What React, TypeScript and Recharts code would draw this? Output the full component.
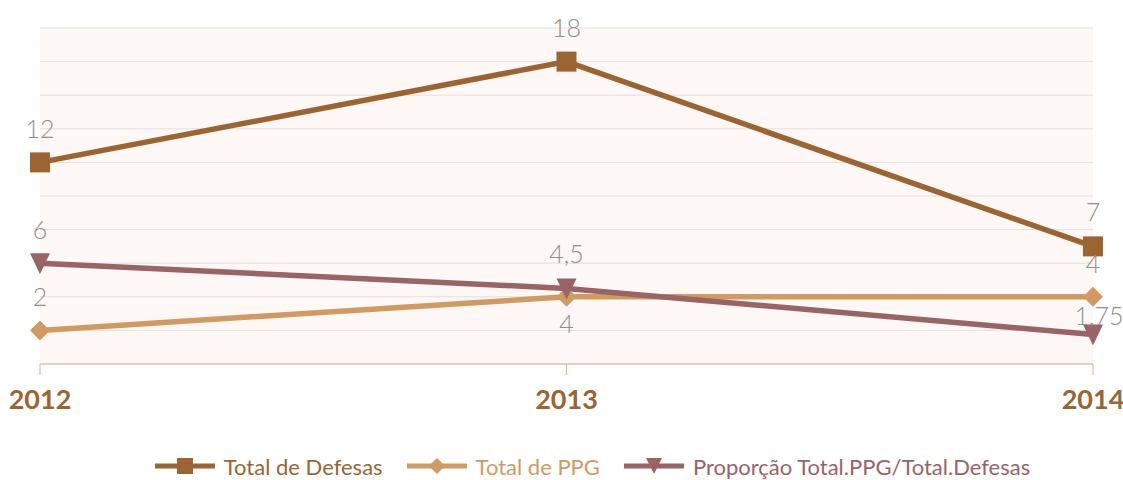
import React from 'react';
import { LineChart, Line, XAxis, YAxis, CartesianGrid, Legend, LabelList } from 'recharts';

const years = ['2012', '2013', '2014'];
const totalDefesas = [12, 18, 7];
const totalPPG = [2, 4, 4];
const proporcao = [6, 4.5, 1.75];
const yTicks = [0, 2, 4, 6, 8, 10, 12, 14, 16, 18, 20];

const seriesNames = {
  defesas: 'Total de Defesas',
  ppg: 'Total de PPG',
  prop: 'Proporção Total.PPG/Total.Defesas',
};

const COLORS = {
  defesas: '#9b6431',
  ppg: '#d19a63',
  prop: '#9a6365',
  label: '#8e8e8e',
  grid: '#e3dfdc',
  bg: '#fdf8f5',
  axis: '#d8b48b',
};

const data = years.map((y, i) => ({
  year: y,
  defesas: totalDefesas[i],
  ppg: totalPPG[i],
  prop: proporcao[i],
}));

// label placement per series (dx, dy relative to point, baseline)
const labelPlacement: Record<string, { dx: number; dy: number }[]> = {
  defesas: [{ dx: 0, dy: -24 }, { dx: 0, dy: -25 }, { dx: 0, dy: -25 }],
  ppg: [{ dx: 0, dy: -24 }, { dx: 0, dy: 36 }, { dx: 0, dy: -24 }],
  prop: [{ dx: 0, dy: -24 }, { dx: 0, dy: -25 }, { dx: 6, dy: -10 }],
};

const fmt = (v: number) => String(v).replace('.', ',');

const makeLabel = (key: string) => (props: any) => {
  const { x, y, value, index } = props;
  const p = labelPlacement[key][index] || { dx: 0, dy: -24 };
  return (
    <text
      x={x + p.dx}
      y={y + p.dy}
      textAnchor="middle"
      fill={COLORS.label}
      fontSize={25}
      fontFamily="Lato, 'Open Sans', sans-serif"
      fontWeight={300}
    >
      {fmt(value)}
    </text>
  );
};

const SquareDot = (props: any) => {
  const { cx, cy } = props;
  if (cx == null || cy == null) return null;
  return <rect x={cx - 10} y={cy - 10} width={20} height={20} fill={COLORS.defesas} />;
};
const DiamondDot = (props: any) => {
  const { cx, cy } = props;
  if (cx == null || cy == null) return null;
  return (
    <polygon
      points={`${cx},${cy - 10} ${cx + 10},${cy} ${cx},${cy + 10} ${cx - 10},${cy}`}
      fill={COLORS.ppg}
    />
  );
};
const TriangleDot = (props: any) => {
  const { cx, cy } = props;
  if (cx == null || cy == null) return null;
  return (
    <polygon
      points={`${cx - 10},${cy - 10} ${cx + 10},${cy - 10} ${cx},${cy + 11}`}
      fill={COLORS.prop}
    />
  );
};

const LegendIcon = ({ kind, color }: { kind: string; color: string }) => (
  <svg width={60} height={20} style={{ display: 'block' }}>
    <line x1={0} y1={10} x2={60} y2={10} stroke={color} strokeWidth={5} />
    {kind === 'square' && <rect x={22} y={2} width={16} height={16} fill={color} />}
    {kind === 'diamond' && <polygon points="30,2 38,10 30,18 22,10" fill={color} />}
    {kind === 'triangle' && <polygon points="22,2 38,2 30,18" fill={color} />}
  </svg>
);

const legendItems = [
  { key: 'defesas', kind: 'square' },
  { key: 'ppg', kind: 'diamond' },
  { key: 'prop', kind: 'triangle' },
];

const renderLegend = () => (
  <div
    style={{
      display: 'flex',
      justifyContent: 'center',
      alignItems: 'center',
      height: 36,
      paddingLeft: 62,
      fontFamily: "Lato, 'Open Sans', sans-serif",
      fontSize: 22,
    }}
  >
    {legendItems.map((it, i) => (
      <div key={it.key} style={{ display: 'flex', alignItems: 'center', marginRight: i < 2 ? 24 : 0 }}>
        <LegendIcon kind={it.kind} color={(COLORS as any)[it.key]} />
        <span style={{ color: (COLORS as any)[it.key], marginLeft: 9 }}>
          {(seriesNames as any)[it.key]}
        </span>
      </div>
    ))}
  </div>
);

export default function App() {
  return (
    <div style={{ position: 'absolute', left: 0, top: 0 }}>
      <LineChart
        width={1123}
        height={480}
        data={data}
        margin={{ top: 28, right: 30, left: 40, bottom: 20 }}
      >
        <CartesianGrid vertical={false} stroke={COLORS.grid} fill={COLORS.bg} fillOpacity={1} />
        <XAxis
          dataKey="year"
          stroke={COLORS.axis}
          tickSize={11}
          tickMargin={15}
          height={60}
          interval={0}
          tick={{ fill: COLORS.defesas, fontSize: 27, fontWeight: 700, fontFamily: "Lato, 'Open Sans', sans-serif" }}
        />
        <YAxis hide domain={[0, 20]} ticks={yTicks} />
        <Legend
          verticalAlign="bottom"
          content={renderLegend}
          wrapperStyle={{ left: 0, width: 1123, top: 448, bottom: 'auto' }}
        />
        <Line
          dataKey="defesas"
          name={seriesNames.defesas}
          stroke={COLORS.defesas}
          strokeWidth={5.5}
          dot={<SquareDot />}
          activeDot={false}
          isAnimationActive={false}
        >
          <LabelList dataKey="defesas" content={makeLabel('defesas')} />
        </Line>
        <Line
          dataKey="ppg"
          name={seriesNames.ppg}
          stroke={COLORS.ppg}
          strokeWidth={5.5}
          dot={<DiamondDot />}
          activeDot={false}
          isAnimationActive={false}
        >
          <LabelList dataKey="ppg" content={makeLabel('ppg')} />
        </Line>
        <Line
          dataKey="prop"
          name={seriesNames.prop}
          stroke={COLORS.prop}
          strokeWidth={5.5}
          dot={<TriangleDot />}
          activeDot={false}
          isAnimationActive={false}
        >
          <LabelList dataKey="prop" content={makeLabel('prop')} />
        </Line>
      </LineChart>
    </div>
  );
}
